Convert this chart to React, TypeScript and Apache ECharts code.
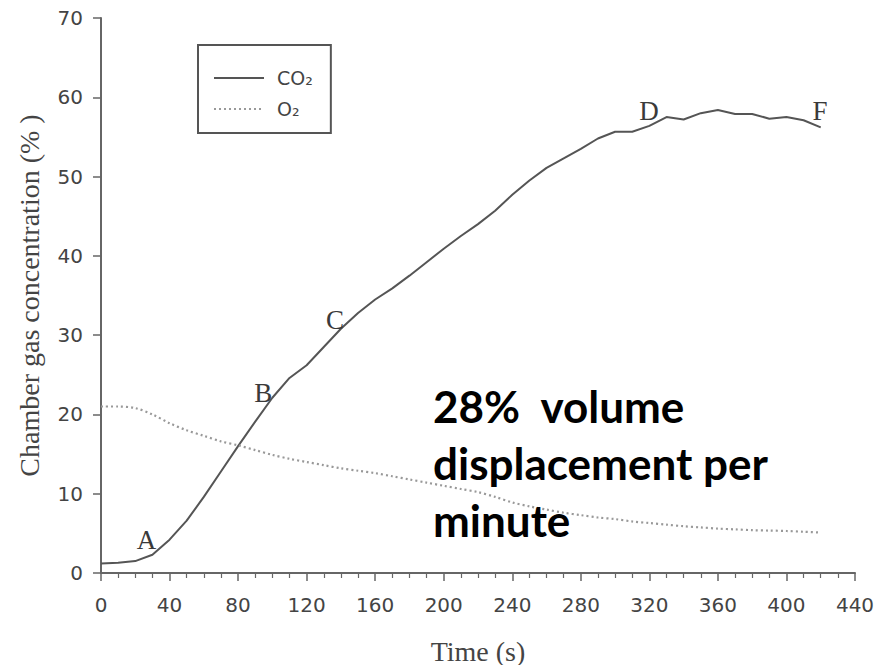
import React, { useEffect, useRef } from "react";
import * as echarts from "echarts";

const timeSeconds = [
  0, 10, 20, 30, 40, 50, 60, 70, 80, 90, 100, 110, 120, 130, 140, 150, 160, 170, 180, 190, 200,
  210, 220, 230, 240, 250, 260, 270, 280, 290, 300, 310, 320, 330, 340, 350, 360, 370, 380, 390,
  400, 410, 420,
];

const co2Percent = [
  1.2, 1.3, 1.5, 2.3, 4.2, 6.6, 9.6, 12.8, 16.0, 19.1, 22.1, 24.6, 26.2, 28.5, 30.8, 32.8, 34.5,
  35.9, 37.5, 39.2, 40.9, 42.5, 44.0, 45.7, 47.7, 49.5, 51.1, 52.3, 53.5, 54.8, 55.65, 55.65, 56.4,
  57.5, 57.2, 58.0, 58.4, 57.9, 57.9, 57.3, 57.5, 57.1, 56.2,
];

const o2Percent = [
  21.0, 21.0, 20.8, 20.0, 18.9, 18.0, 17.3, 16.6, 16.1, 15.5, 14.9, 14.4, 14.0, 13.6, 13.2, 12.9,
  12.6, 12.2, 11.8, 11.4, 11.0, 10.6, 10.2, 9.6, 8.9, 8.4, 8.0, 7.6, 7.3, 7.0, 6.8, 6.5, 6.3, 6.1,
  5.9, 5.75, 5.6, 5.5, 5.4, 5.35, 5.3, 5.2, 5.1,
];

const seriesNames = ["CO₂", "O₂"];

const annotationLetters = ["A", "B", "C", "D", "F"];
const annotationTimes = [26.6, 94.7, 136.5, 319.8, 419.6];
const annotationValues = [4.2, 22.7, 31.9, 58.3, 58.3];

const xAxisMin = 0;
const xAxisMax = 440;
const xAxisStep = 40;
const yAxisMin = 0;
const yAxisMax = 70;
const yAxisStep = 10;

const noteLines = ["28%  volume", "displacement per", "minute"];

export default function App() {
  const ref = useRef<HTMLDivElement | null>(null);

  useEffect(() => {
    document.body.style.margin = "0";
    if (!ref.current) return;
    const chart = echarts.init(ref.current, undefined, { renderer: "svg" });

    const axisColor = "#666";
    const textColor = "#444";

    chart.setOption({
      animation: false,
      backgroundColor: "#fff",
      grid: { left: 101, right: 20, top: 18, bottom: 92, containLabel: false, outerBoundsMode: "none" },
      legend: {
        orient: "vertical",
        left: 198,
        top: 45,
        padding: [22, 18, 13, 15],
        itemGap: 9,
        itemWidth: 50,
        itemHeight: 14,
        borderColor: "#555",
        borderWidth: 2,
        borderRadius: 0,
        itemStyle: { opacity: 0 },
        data: seriesNames,
        textStyle: {
          fontFamily: "DejaVu Sans",
          fontSize: 19,
          color: textColor,
          lineHeight: 22,
          padding: [0, 0, 0, 8],
        },
      },
      xAxis: {
        type: "value",
        min: xAxisMin,
        max: xAxisMax,
        interval: xAxisStep,
        name: "Time (s)",
        nameLocation: "middle",
        nameGap: 64,
        nameTextStyle: { fontFamily: "Liberation Serif", fontSize: 28, color: textColor },
        axisLine: { show: true, onZero: false, lineStyle: { color: axisColor, width: 2 } },
        axisTick: { show: true, length: 8, lineStyle: { color: axisColor, width: 1.5 } },
        minorTick: { show: true, splitNumber: 4, length: 5, lineStyle: { color: axisColor, width: 1.2 } },
        axisLabel: { fontFamily: "DejaVu Sans", fontSize: 20, color: textColor, margin: 22 },
        splitLine: { show: false },
      },
      yAxis: {
        type: "value",
        min: yAxisMin,
        max: yAxisMax,
        interval: yAxisStep,
        name: "Chamber gas concentration (% )",
        nameLocation: "middle",
        nameGap: 58,
        nameTextStyle: { fontFamily: "Liberation Serif", fontSize: 28, color: textColor },
        axisLine: { show: true, lineStyle: { color: axisColor, width: 2 } },
        axisTick: { show: true, length: 8, lineStyle: { color: axisColor, width: 1.5 } },
        axisLabel: { fontFamily: "DejaVu Sans", fontSize: 20, color: textColor, margin: 18 },
        splitLine: { show: false },
      },
      series: [
        {
          name: seriesNames[0],
          type: "line",
          symbol: "none",
          data: timeSeconds.map((t, i) => [t, co2Percent[i]]),
          lineStyle: { color: "#555", width: 2 },
          itemStyle: { color: "#555" },
          markPoint: {
            symbol: "circle",
            symbolSize: 0,
            itemStyle: { color: "transparent" },
            label: {
              show: true,
              position: "inside",
              fontFamily: "Liberation Serif",
              fontSize: 27,
              color: "#3a3a3a",
              formatter: (p: any) => p.name,
            },
            data: annotationLetters.map((letter, i) => ({
              name: letter,
              coord: [annotationTimes[i], annotationValues[i]],
            })),
          },
        },
        {
          name: seriesNames[1],
          type: "line",
          symbol: "none",
          smooth: 0.3,
          data: timeSeconds.map((t, i) => [t, o2Percent[i]]),
          lineStyle: { color: "#999", width: 2.2, type: [2, 3] },
          itemStyle: { color: "#999" },
        },
      ],
      graphic: [
        {
          type: "text",
          left: 433,
          top: 377,
          style: {
            text: noteLines.join("\n"),
            font: "bold 44px Lato",
            fill: "#000",
            lineHeight: 57,
          },
          z: 100,
        },
      ],
    });

    return () => {
      chart.dispose();
    };
  }, []);

  return <div ref={ref} style={{ width: 875, height: 665 }} />;
}
